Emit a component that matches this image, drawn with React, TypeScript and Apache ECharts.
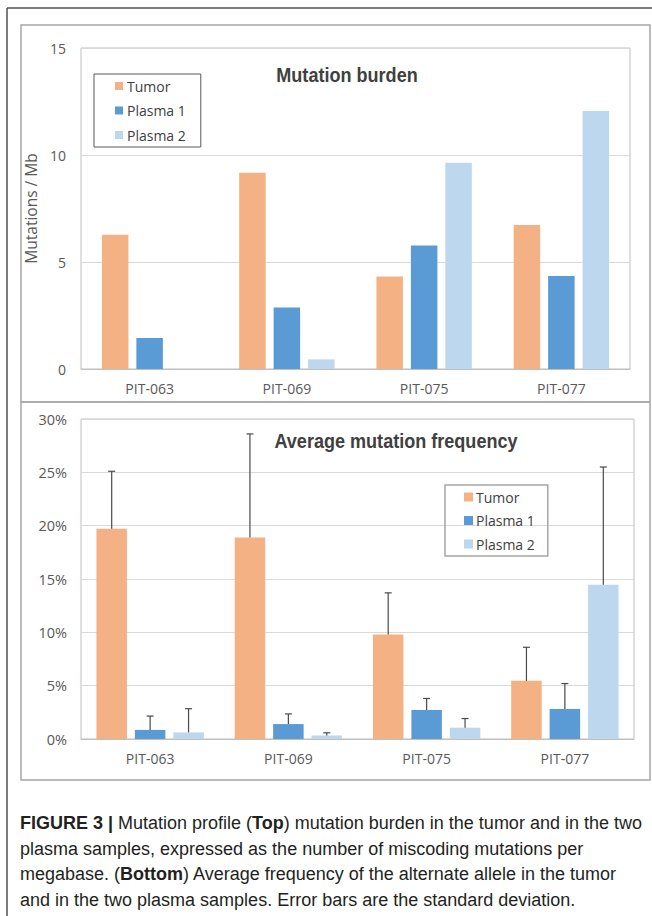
import React, { useEffect, useRef } from "react";
import * as echarts from "echarts";

const categories = ["PIT-063", "PIT-069", "PIT-075", "PIT-077"];
const seriesNames = ["Tumor", "Plasma 1", "Plasma 2"];
const seriesColors = ["#F4B183", "#5B9BD5", "#BDD7EE"];

// Top panel: mutation burden (mutations / Mb)
const burdenTumor = [6.27, 9.17, 4.32, 6.73];
const burdenPlasma1 = [1.45, 2.87, 5.77, 4.35];
const burdenPlasma2 = [0, 0.45, 9.64, 12.06];

// Bottom panel: average mutation frequency (%) and standard deviation (%)
const freqTumor = [19.7, 18.9, 9.8, 5.45];
const freqPlasma1 = [0.85, 1.4, 2.72, 2.82];
const freqPlasma2 = [0.62, 0.33, 1.06, 14.45];
const sdTumor = [5.4, 9.7, 3.9, 3.15];
const sdPlasma1 = [1.3, 0.95, 1.08, 2.38];
const sdPlasma2 = [2.22, 0.25, 0.86, 11.05];

const burdenAxis = { min: 0, max: 15, interval: 5 };
const freqAxis = { min: 0, max: 30, interval: 5 };

const titleTop = "Mutation burden";
const titleBottom = "Average mutation frequency";
const yNameTop = "Mutations / Mb";

const captionLines = [
  "{b|FIGURE 3 |} Mutation profile ({b|Top}) mutation burden in the tumor and in the two",
  "plasma samples, expressed as the number of miscoding mutations per",
  "megabase. ({b|Bottom}) Average frequency of the alternate allele in the tumor",
  "and in the two plasma samples. Error bars are the standard deviation.",
];

const TICK_FONT = "'Open Sans', 'Noto Sans', sans-serif";
const TITLE_FONT = "'Liberation Sans Narrow', 'Liberation Sans', Arial, sans-serif";
const CAPTION_FONT = "'Liberation Sans', Arial, sans-serif";

export default function App() {
  const ref = useRef<HTMLDivElement>(null);

  useEffect(() => {
    if (!ref.current) return;
    const chart = echarts.init(ref.current, null, { renderer: "svg" });

    const topBarW = 26.5;
    const topGap = "30%";
    const botBarW = 30.5;
    const botGapRatio = 0.26;
    const botGap = "26%";
    const botStep = botBarW + botBarW * botGapRatio;

    const freqMeans = [freqTumor, freqPlasma1, freqPlasma2];
    const freqSds = [sdTumor, sdPlasma1, sdPlasma2];
    const burdens = [burdenTumor, burdenPlasma1, burdenPlasma2];

    const tickLabel = { color: "#595959", fontSize: 14, fontFamily: TICK_FONT };

    const topBars = burdens.map((d, i) => ({
      type: "bar",
      name: seriesNames[i],
      xAxisIndex: 0,
      yAxisIndex: 0,
      data: d,
      barWidth: topBarW,
      barGap: topGap,
      itemStyle: { color: seriesColors[i] },
    }));

    const botBars = freqMeans.map((d, i) => ({
      type: "bar",
      name: seriesNames[i],
      xAxisIndex: 1,
      yAxisIndex: 1,
      data: d,
      barWidth: botBarW,
      barGap: botGap,
      itemStyle: { color: seriesColors[i] },
    }));

    const errorSeries = freqMeans.map((d, i) => {
      const offset = (i - 1) * botStep;
      return {
        type: "custom",
        xAxisIndex: 1,
        yAxisIndex: 1,
        z: 5,
        encode: { x: 0, y: 1 },
        data: d.map((v, k) => [k, v, freqSds[i][k]]),
        renderItem: (params: any, api: any) => {
          const cat = api.value(0);
          const mean = api.value(1);
          const sd = api.value(2);
          const base = api.coord([cat, mean]);
          const top = api.coord([cat, mean + sd]);
          const x = base[0] + offset;
          const st = { stroke: "#4a4a4a", lineWidth: 1.2 };
          return {
            type: "group",
            children: [
              { type: "line", shape: { x1: x, y1: base[1], x2: x, y2: top[1] }, style: st },
              { type: "line", shape: { x1: x - 3.5, y1: top[1], x2: x + 3.5, y2: top[1] }, style: st },
            ],
          };
        },
      };
    });

    const option: any = {
      animation: false,
      backgroundColor: "#ffffff",
      grid: [
        { left: 81, top: 48, width: 549, height: 321, show: true, borderColor: "#BFBFBF", borderWidth: 1, containLabel: false },
        { left: 81, top: 419, width: 553, height: 320, show: true, borderColor: "#BFBFBF", borderWidth: 1, containLabel: false },
      ],
      xAxis: [0, 1].map((g) => ({
        type: "category",
        gridIndex: g,
        data: categories,
        axisTick: { show: false },
        axisLine: { lineStyle: { color: "#BFBFBF" } },
        axisLabel: { ...tickLabel, margin: 12 },
      })),
      yAxis: [
        {
          type: "value",
          gridIndex: 0,
          ...burdenAxis,
          axisLine: { show: false },
          axisTick: { show: false },
          splitLine: { lineStyle: { color: "#D9D9D9" } },
          axisLabel: { ...tickLabel, margin: 15 },
          name: yNameTop,
          nameLocation: "middle",
          nameRotate: 90,
          nameGap: 30,
          nameTextStyle: { color: "#595959", fontSize: 15.5, fontFamily: TICK_FONT },
        },
        {
          type: "value",
          gridIndex: 1,
          ...freqAxis,
          axisLine: { show: false },
          axisTick: { show: false },
          splitLine: { lineStyle: { color: "#D9D9D9" } },
          axisLabel: { ...tickLabel, fontSize: 14.5, margin: 14, formatter: (v: number) => `${v}%` },
        },
      ],
      legend: [
        {
          data: seriesNames,
          orient: "vertical",
          left: 94,
          top: 74,
          icon: "rect",
          itemWidth: 8,
          itemHeight: 8,
          itemGap: 8.5,
          padding: [4, 15, 4, 21],
          borderColor: "#595959",
          borderWidth: 1,
          selectedMode: false,
          textStyle: { color: "#404040", fontSize: 14, lineHeight: 16, fontFamily: TICK_FONT, padding: [0, 0, 0, -1] },
        },
        {
          data: seriesNames,
          orient: "vertical",
          left: 445,
          top: 485,
          icon: "rect",
          itemWidth: 9,
          itemHeight: 9,
          itemGap: 7.5,
          padding: [4, 13, 4, 19],
          borderColor: "#A6A6A6",
          borderWidth: 1.5,
          selectedMode: false,
          textStyle: { color: "#404040", fontSize: 14, lineHeight: 16, fontFamily: TICK_FONT, padding: [0, 0, 0, -2] },
        },
      ],
      graphic: [
        // outer figure frame
        { type: "line", z: 0, shape: { x1: 7, y1: 8, x2: 652, y2: 8 }, style: { stroke: "#505050", lineWidth: 1.5 } },
        { type: "line", z: 0, shape: { x1: 7, y1: 8, x2: 7, y2: 916 }, style: { stroke: "#505050", lineWidth: 1.5 } },
        // panel frames
        { type: "rect", z: 0, shape: { x: 21, y: 25, width: 629, height: 377 }, style: { fill: "none", stroke: "#A6A6A6", lineWidth: 1.5 } },
        { type: "rect", z: 0, shape: { x: 21, y: 402, width: 629, height: 378 }, style: { fill: "none", stroke: "#A6A6A6", lineWidth: 1.5 } },
        // chart titles
        {
          type: "text",
          x: 347,
          y: 74,
          scaleX: 0.86,
          style: { text: titleTop, align: "center", verticalAlign: "middle", fontSize: 21, fontWeight: "bold", fontFamily: TITLE_FONT, fill: "#404040" },
        },
        {
          type: "text",
          x: 396,
          y: 440,
          scaleX: 0.86,
          style: { text: titleBottom, align: "center", verticalAlign: "middle", fontSize: 21, fontWeight: "bold", fontFamily: TITLE_FONT, fill: "#404040" },
        },
        // caption
        ...captionLines.map((t, i) => ({
          type: "text",
          x: 20,
          y: [823, 849, 874, 900][i],
          style: {
            text: t,
            align: "left",
            verticalAlign: "middle",
            fontSize: 18,
            fontFamily: CAPTION_FONT,
            fill: "#231f20",
            rich: { b: { fontSize: 18, fontWeight: "bold", fontFamily: CAPTION_FONT, fill: "#231f20" } },
          },
        })),
      ],
      series: [...topBars, ...botBars, ...errorSeries],
    };

    chart.setOption(option);
    return () => chart.dispose();
  }, []);

  return <div ref={ref} style={{ position: "absolute", left: 0, top: 0, width: 652, height: 916, background: "#fff" }} />;
}
